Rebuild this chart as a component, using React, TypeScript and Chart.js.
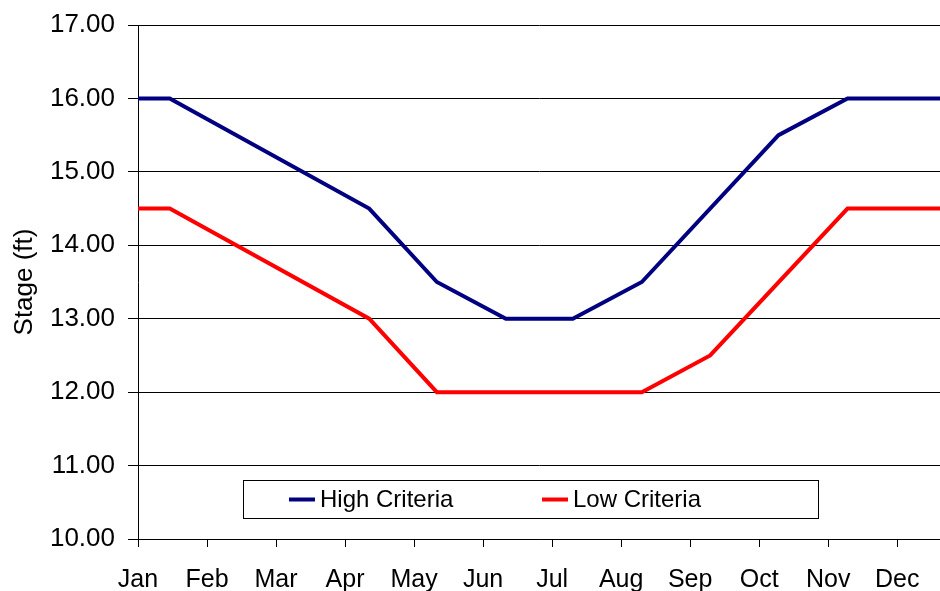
import React, { useEffect, useRef } from "react";
import { Chart, registerables } from "chart.js";

Chart.register(...registerables);

const months = ["Jan", "Feb", "Mar", "Apr", "May", "Jun", "Jul", "Aug", "Sep", "Oct", "Nov", "Dec"];
const xMax = 11.62;
const yMin = 10;
const yMax = 17;

const highLabel = "High Criteria";
const highX = [0, 0.46, 3.35, 4.33, 5.33, 6.3, 7.3, 9.28, 10.28, 11.62];
const highY = [16, 16, 14.5, 13.5, 13, 13, 13.5, 15.5, 16, 16];

const lowLabel = "Low Criteria";
const lowX = [0, 0.46, 3.35, 4.33, 7.3, 8.29, 10.28, 11.62];
const lowY = [14.5, 14.5, 13, 12, 12, 12.5, 14.5, 14.5];

const FONT = "'Liberation Sans', Arial, sans-serif";

const boxLegend = {
  id: "boxLegend",
  afterDraw(chart: any) {
    const { ctx, chartArea } = chart;
    const left = chartArea.left + 105;
    const top = chartArea.bottom - 59;
    const w = 575;
    const h = 38;
    ctx.save();
    ctx.fillStyle = "#ffffff";
    ctx.fillRect(left, top, w, h);
    ctx.strokeStyle = "#000000";
    ctx.lineWidth = 1;
    ctx.strokeRect(left + 0.5, top + 0.5, w, h);
    const cy = top + 19.5;
    const offsets = [46, 299];
    chart.data.datasets.forEach((ds: any, i: number) => {
      const sx = left + offsets[i];
      ctx.strokeStyle = ds.borderColor;
      ctx.lineWidth = 4;
      ctx.beginPath();
      ctx.moveTo(sx, cy);
      ctx.lineTo(sx + 26, cy);
      ctx.stroke();
      ctx.fillStyle = "#000";
      ctx.font = `24px ${FONT}`;
      ctx.textBaseline = "middle";
      ctx.textAlign = "left";
      ctx.fillText(ds.label, sx + 31, cy + 1);
    });
    ctx.restore();
  },
};

export default function App() {
  const ref = useRef<HTMLCanvasElement | null>(null);
  useEffect(() => {
    document.body.style.margin = "0";
    const canvas = ref.current;
    if (!canvas) return;
    const chart = new Chart(canvas, {
      type: "line",
      data: {
        datasets: [
          {
            label: highLabel,
            data: highX.map((x, i) => ({ x, y: highY[i] })),
            borderColor: "#000080",
            backgroundColor: "#000080",
            borderWidth: 4,
            pointRadius: 0,
            tension: 0,
          },
          {
            label: lowLabel,
            data: lowX.map((x, i) => ({ x, y: lowY[i] })),
            borderColor: "#ff0000",
            backgroundColor: "#ff0000",
            borderWidth: 4,
            pointRadius: 0,
            tension: 0,
          },
        ],
      },
      options: {
        animation: false,
        responsive: false,
        layout: { padding: { top: 25, left: 0, right: 0, bottom: 0 } },
        plugins: { legend: { display: false }, tooltip: { enabled: false } },
        scales: {
          x: {
            type: "linear",
            min: 0,
            max: xMax,
            afterBuildTicks: (scale: any) => {
              scale.ticks = months.map((_, i) => ({ value: i }));
            },
            afterFit: (scale: any) => {
              scale.height = 52;
              scale.paddingLeft = 0;
              scale.paddingRight = 0;
            },
            grid: {
              drawOnChartArea: false,
              drawTicks: true,
              tickLength: 8,
              tickColor: "#000",
              tickWidth: 1,
            },
            border: { display: true, color: "#000", width: 1 },
            ticks: {
              autoSkip: false,
              maxRotation: 0,
              padding: 18,
              color: "#000",
              font: { family: FONT, size: 25 },
              callback: (v: any) => months[v] ?? "",
            },
          },
          y: {
            min: yMin,
            max: yMax,
            afterFit: (scale: any) => {
              scale.width = 138;
              scale.paddingTop = 0;
              scale.paddingBottom = 0;
            },
            grid: {
              color: "#000",
              lineWidth: 1,
              drawTicks: true,
              tickLength: 10,
              tickColor: "#000",
            },
            border: { display: true, color: "#000", width: 1 },
            ticks: {
              stepSize: 1,
              padding: 13,
              color: "#000",
              font: { family: FONT, size: 26 },
              callback: (v: any) => Number(v).toFixed(2),
            },
            title: {
              display: true,
              text: "Stage (ft)",
              color: "#000",
              font: { family: FONT, size: 26 },
              padding: { top: 9, bottom: 0 },
            },
          },
        },
      },
      plugins: [boxLegend],
    });
    return () => chart.destroy();
  }, []);
  return (
    <div style={{ position: "absolute", left: 0, top: 0, width: 940, height: 591 }}>
      <canvas ref={ref} width={940} height={591} style={{ display: "block" }} />
    </div>
  );
}
